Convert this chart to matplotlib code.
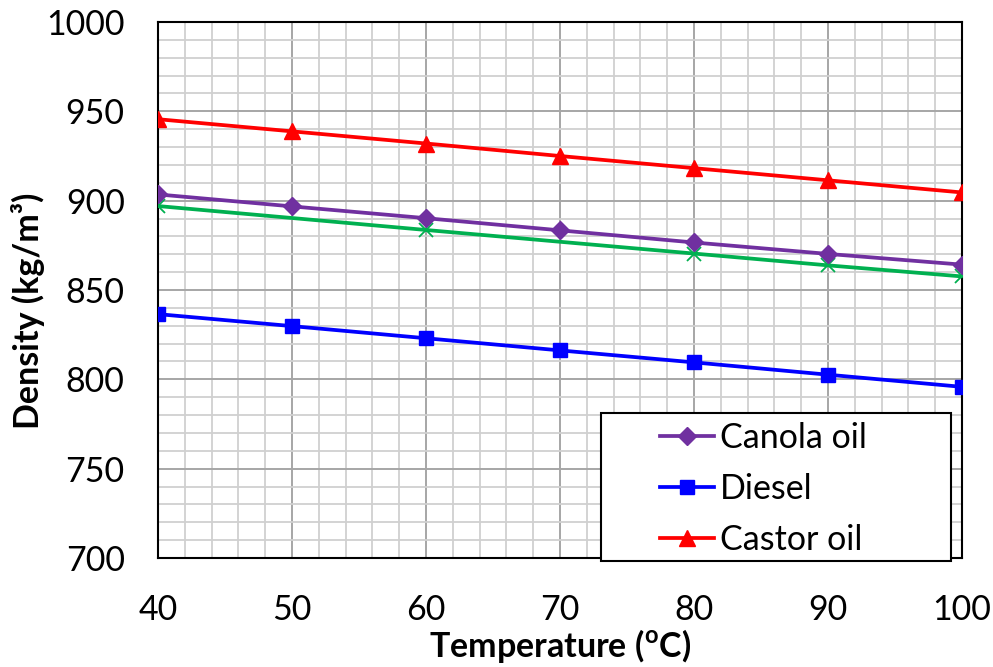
import matplotlib
matplotlib.use("Agg")
import matplotlib.pyplot as plt
from matplotlib.ticker import MultipleLocator
from matplotlib.patches import Rectangle

plt.rcParams['font.family'] = ['Lato', 'DejaVu Sans']
plt.rcParams['mathtext.fontset'] = 'custom'
plt.rcParams['mathtext.rm'] = 'Lato'
plt.rcParams['mathtext.bf'] = 'Lato:bold'

# Data
temperature = [40, 50, 60, 70, 80, 90, 100]
canola = [903.5, 896.8, 890.2, 883.4, 876.6, 870.2, 864.2]
diesel = [836.5, 829.8, 823.0, 816.2, 809.5, 802.6, 795.8]
castor = [945.6, 938.8, 932.0, 925.0, 918.2, 911.4, 904.6]

green_temp = [40, 60, 80, 90, 100]
green = [897.0, 883.6, 870.4, 863.8, 857.6]

fig = plt.figure(figsize=(9.93, 6.67), dpi=100)
ax = fig.add_axes([0.1591, 0.1634, 0.8097, 0.8036])

ax.plot(green_temp, green, color='#00B050', lw=2.7, marker='x',
        markersize=10, markeredgewidth=1.3, zorder=3)
ax.plot(temperature, canola, color='#7030A0', lw=2.7, marker='D',
        markersize=9, label='Canola oil', zorder=4)
ax.plot(temperature, diesel, color='#0000FF', lw=2.7, marker='s',
        markersize=10.5, label='Diesel', zorder=4)
ax.plot(temperature, castor, color='#FF0000', lw=2.7, marker='^',
        markersize=11, label='Castor oil', zorder=4)

ax.set_xlim(40, 100)
ax.set_ylim(700, 1000)
ax.xaxis.set_major_locator(MultipleLocator(10))
ax.xaxis.set_minor_locator(MultipleLocator(2))
ax.yaxis.set_major_locator(MultipleLocator(50))
ax.yaxis.set_minor_locator(MultipleLocator(10))

ax.grid(which='major', color='#a6a6a6', lw=1.4, zorder=0)
ax.grid(which='minor', color='#d0d0d0', lw=1.3, zorder=0)
ax.set_axisbelow(True)

for s in ax.spines.values():
    s.set_color('black')
    s.set_linewidth(1.5)

ax.tick_params(which='both', length=0, labelsize=24.5)
ax.tick_params(axis='x', pad=26)
ax.tick_params(axis='y', pad=24)

ax.set_xlabel(r'Temperature ($^{\mathbf{o}}$C)', fontsize=24.5, fontweight='bold')
ax.set_ylabel('Density (kg/m³)', fontsize=24.5, fontweight='bold')
ax.xaxis.set_label_coords(0.5, -0.128)
ax.yaxis.set_label_coords(-0.14, 0.461)

# legend box drawn separately so the entries can sit indented like the original
box = Rectangle((0.551, -0.006), 0.435, 0.277, transform=ax.transAxes,
                facecolor='white', edgecolor='black', lw=1.5,
                clip_on=False, zorder=9)
ax.add_patch(box)
leg = ax.legend(loc='upper left', bbox_to_anchor=(0.6244, 0.253),
                fontsize=24.5, frameon=False, handlelength=1.6,
                handletextpad=0.15, labelspacing=0.55,
                borderpad=0, borderaxespad=0)
leg.set_zorder(10)

fig.savefig('out.png', dpi=100)
